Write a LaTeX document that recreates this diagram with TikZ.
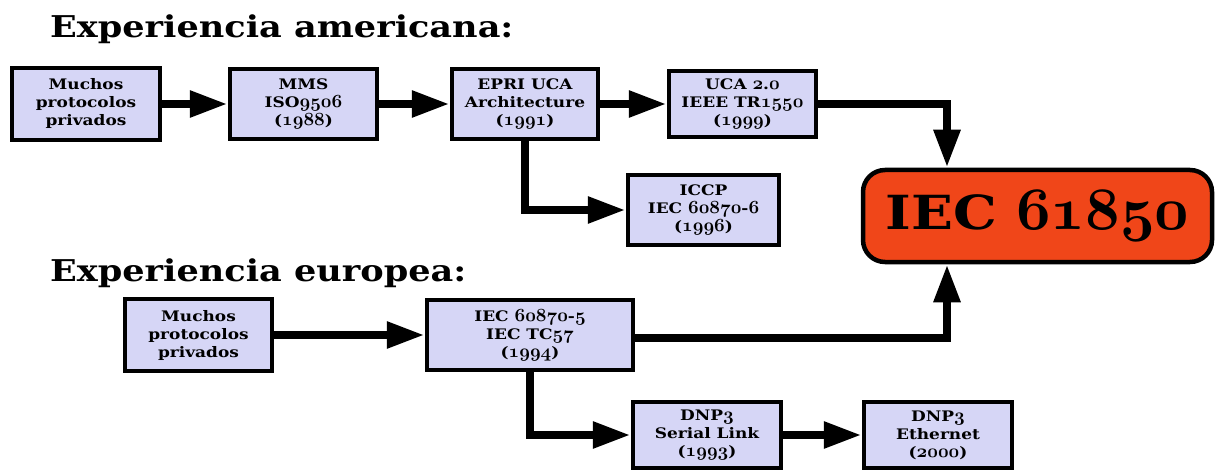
\documentclass[tikz,border=0pt]{standalone}
\usepackage{fontspec}
\setmainfont{DejaVu Serif}
\newfontfamily\wideserif{DejaVu Serif}[FakeStretch=1.17]
\usetikzlibrary{arrows.meta}
\definecolor{boxfill}{RGB}{214,214,246}
\definecolor{iecfill}{RGB}{240,70,25}
% old-style bold figures (digits only), freely scalable, set a little larger than the text
\DeclareFontFamily{OML}{osf}{\skewchar\font'177}
\DeclareFontShape{OML}{osf}{b}{it}{<->cmmib10}{}
\makeatletter
\newcommand{\osn}[1]{{\fontencoding{OML}\fontfamily{osf}\fontseries{b}\fontshape{it}%
  \fontsize{\fpeval{1.28*\f@size}}{\f@baselineskip}\selectfont #1}}
\makeatother
\begin{document}
\begin{tikzpicture}[x=1pt,y=-1pt,
  stagebox/.style={draw=black, line width=4.5pt, fill=boxfill, align=center,
    inner sep=0pt, font=\wideserif\bfseries\fontsize{14.5}{18}\selectfont},
  heading/.style={anchor=base west, inner sep=0pt, font=\wideserif\bfseries\fontsize{30}{34}\selectfont},
  flow/.style={line width=8.5pt, -{Triangle[length=38pt,width=25pt]}},
]
\useasboundingbox (0,0) rectangle (1217,470);

% headings
\node[heading] (hAm) at (50,38) {Experiencia americana:};
\node[heading] (hEu) at (50,281) {Experiencia europea:};

% American line
\node[stagebox, minimum width=148, minimum height=72] (a1) at (86,104) {Muchos\\protocolos\\privados};
\node[stagebox, minimum width=147, minimum height=70] (a2) at (303.5,104) {MMS\\ISO\osn{9506}\\(\osn{1988})};
\node[stagebox, minimum width=146, minimum height=70] (a3) at (525,104) {EPRI UCA\\Architecture\\(\osn{1991})};
\node[stagebox, minimum width=147, minimum height=66] (a4) at (742.5,104) {UCA \osn{2}.\osn{0}\\IEEE TR\osn{1550}\\(\osn{1999})};
\node[stagebox, minimum width=151, minimum height=70] (a5) at (703.5,210) {ICCP\\IEC \osn{60870}-\osn{6}\\(\osn{1996})};

% target standard
\node[draw=black, line width=4.5pt, fill=iecfill, rounded corners=22pt,
      minimum width=349, minimum height=92, inner sep=0pt,
      font=\wideserif\bfseries\fontsize{47}{56}\selectfont] (iec) at (1037.5,216) {IEC \osn{61850}};

% European line
\node[stagebox, minimum width=147, minimum height=72] (e1) at (198.5,335) {Muchos\\protocolos\\privados};
\node[stagebox, minimum width=206, minimum height=70] (e2) at (530,335) {IEC \osn{60870}-\osn{5}\\IEC TC\osn{57}\\(\osn{1994})};
\node[stagebox, minimum width=148, minimum height=66] (e3) at (707,435) {DNP\osn{3}\\Serial Link\\(\osn{1993})};
\node[stagebox, minimum width=148, minimum height=66] (e4) at (938,435) {DNP\osn{3}\\Ethernet\\(\osn{2000})};

% connectors
\draw[flow] (a1) -- (a2);
\draw[flow] (a2) -- (a3);
\draw[flow] (a3) -- (a4);
\draw[flow] (a4.east) -| ([xshift=-90.5pt]iec.north);
\draw[flow] (a3.south) |- (a5.west);
\draw[flow] (e1) -- (e2);
\draw[flow] ([yshift=-3pt]e2.east) -| ([xshift=-90.5pt]iec.south);
\draw[flow] (e2.south) |- (e3.west);
\draw[flow] (e3) -- (e4);
\end{tikzpicture}
\end{document}
